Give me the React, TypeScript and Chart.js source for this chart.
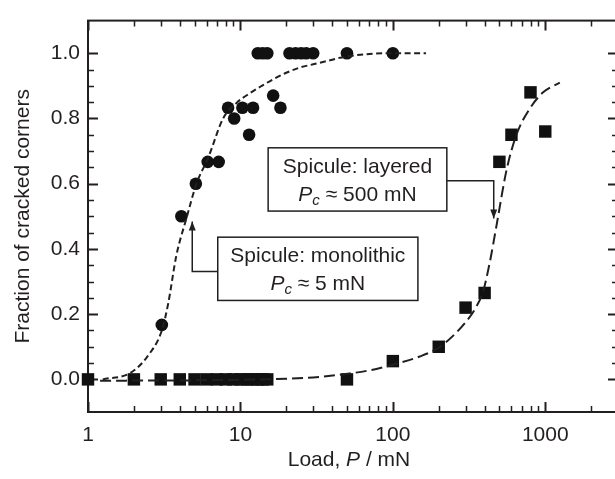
import React, { useEffect, useRef } from 'react';
import { Chart, registerables } from 'chart.js';

Chart.register(...registerables);

// ---- data ----
const MONO_LOAD = [3.05, 4.1, 5.1, 6.1, 7.2, 8.3, 9.1, 10.3, 11.4, 12.1, 13, 14, 15, 16.4, 18.3, 21, 23, 25, 27, 30, 50, 100];
const MONO_FRACTION = [0.167, 0.5, 0.6, 0.667, 0.667, 0.833, 0.8, 0.833, 0.75, 0.833, 1, 1, 1, 0.87, 0.833, 1, 1, 1, 1, 1, 1, 1];

const LAYERED_LOAD = [1, 2, 3, 4, 5, 6, 7, 8, 9, 10, 11, 12, 13, 14, 15, 50, 100, 200, 300, 400, 500, 600, 800, 1000];
const LAYERED_FRACTION = [0, 0, 0, 0, 0, 0, 0, 0, 0, 0, 0, 0, 0, 0, 0, 0, 0.056, 0.1, 0.22, 0.265, 0.667, 0.75, 0.88, 0.76];

const MONO_FIT_LOAD = [1.25, 1.9, 2.45, 3.05, 3.35, 3.8, 4.4, 5.15, 6.15, 7.7, 9.4, 11.5, 13.8, 16.4, 20, 24.5, 30, 37, 45, 50, 67, 100, 165];
const MONO_FIT_FRACTION = [0.0, 0.02, 0.07, 0.15, 0.23, 0.38, 0.49, 0.6, 0.68, 0.8, 0.847, 0.877, 0.9, 0.92, 0.94, 0.956, 0.966, 0.976, 0.986, 0.99, 0.997, 1.0, 1.0];

const LAYERED_FIT_LOAD = [1.2, 5, 10, 20, 30, 52, 78, 100, 150, 200, 250, 300, 350, 391, 433, 478, 556, 647, 791, 968, 1245];
const LAYERED_FIT_FRACTION = [-0.004, -0.003, -0.001, 0.002, 0.006, 0.018, 0.032, 0.045, 0.07, 0.097, 0.135, 0.175, 0.22, 0.27, 0.36, 0.47, 0.64, 0.75, 0.83, 0.88, 0.91];

const X_TICKS = [1, 10, 100, 1000];
const X_MIN = 1;
const X_MAX = 3000;
const Y_TICKS = [0, 0.2, 0.4, 0.6, 0.8, 1.0];
const Y_MIN = -0.1;
const Y_MAX = 1.1;

const X_TITLE = ['Load, ', 'P', ' / mN'];
const Y_TITLE = 'Fraction of cracked corners';

// annotation boxes (data units)
const NOTE_LAYERED = {
  title: 'Spicule: layered',
  pc: ' ≈ 500 mN',
  box: [15.2, 226, 0.516, 0.71],
  arrow: [[226, 0.609], [459, 0.609], [459, 0.493]],
};
const NOTE_MONO = {
  title: 'Spicule: monolithic',
  pc: ' ≈ 5 mN',
  box: [7.1, 146, 0.242, 0.436],
  arrow: [[7.1, 0.331], [4.83, 0.331], [4.83, 0.484]],
};

const INK = '#231f20';
const FONT = "'Liberation Sans', Arial, Helvetica, sans-serif";

const pts = (xs: number[], ys: number[]) => xs.map((x, i) => ({ x, y: ys[i] }));

const framePlugin = {
  id: 'frameTicks',
  beforeDatasetsDraw(chart: any) {
    const { ctx, chartArea } = chart;
    const { left, right, top, bottom } = chartArea;
    const xs = chart.scales.x;
    const ys = chart.scales.y;
    ctx.save();
    ctx.strokeStyle = INK;
    ctx.lineWidth = 2;
    ctx.strokeRect(left, top, right - left, bottom - top);
    // x ticks (log, major + minor)
    for (const dec of X_TICKS) {
      for (let m = 1; m <= 9; m++) {
        const v = m * dec;
        if (v < X_MIN || v > X_MAX) continue;
        const px = Math.round(xs.getPixelForValue(v)) + 0.5;
        const len = m === 1 ? 10 : 6;
        ctx.lineWidth = m === 1 ? 2 : 1.5;
        ctx.beginPath();
        ctx.moveTo(px, bottom);
        ctx.lineTo(px, bottom - len);
        ctx.moveTo(px, top);
        ctx.lineTo(px, top + len);
        ctx.stroke();
      }
    }
    // y ticks (major every 0.2, minor every 0.05)
    const step = (Y_TICKS[1] - Y_TICKS[0]) / 4;
    const n = Math.round((Y_TICKS[Y_TICKS.length - 1] - Y_TICKS[0]) / step);
    for (let i = 0; i <= n; i++) {
      const v = Y_TICKS[0] + i * step;
      const py = Math.round(ys.getPixelForValue(v)) + 0.5;
      const major = i % 4 === 0;
      const len = major ? 10 : 6;
      ctx.lineWidth = major ? 2 : 1.5;
      ctx.beginPath();
      ctx.moveTo(left, py);
      ctx.lineTo(left + len, py);
      ctx.moveTo(right, py);
      ctx.lineTo(right - len, py);
      ctx.stroke();
    }
    ctx.restore();
  },
  afterDraw(chart: any) {
    const { ctx, chartArea } = chart;
    const xs = chart.scales.x;
    const ys = chart.scales.y;
    ctx.save();
    ctx.fillStyle = INK;
    ctx.strokeStyle = INK;
    // x title with italic P
    const reg = `21px ${FONT}`;
    const ita = `italic 21px ${FONT}`;
    const parts = X_TITLE.map((t, i) => ({ t, f: i === 1 ? ita : reg }));
    let total = 0;
    for (const p of parts) { ctx.font = p.f; total += ctx.measureText(p.t).width; }
    let cx = (chartArea.left + chartArea.right) / 2 - 4 - total / 2;
    ctx.textBaseline = 'middle';
    ctx.textAlign = 'left';
    for (const p of parts) { ctx.font = p.f; ctx.fillText(p.t, cx, 460); cx += ctx.measureText(p.t).width; }

    // annotations
    const drawNote = (note: any) => {
      const [x0, x1, y0, y1] = note.box;
      const L = xs.getPixelForValue(x0), R = xs.getPixelForValue(x1);
      const T = ys.getPixelForValue(y1), B = ys.getPixelForValue(y0);
      ctx.fillStyle = '#fff';
      ctx.fillRect(L, T, R - L, B - T);
      ctx.lineWidth = 1.5;
      ctx.strokeStyle = INK;
      ctx.strokeRect(L, T, R - L, B - T);
      ctx.fillStyle = INK;
      const mid = (L + R) / 2;
      ctx.font = reg;
      ctx.textAlign = 'center';
      ctx.textBaseline = 'middle';
      ctx.fillText(note.title, mid, T + 19);
      // second line: P_c ≈ ...
      const sub = `italic 15px ${FONT}`;
      ctx.font = ita; const wP = ctx.measureText('P').width;
      ctx.font = sub; const wc = ctx.measureText('c').width;
      ctx.font = reg; const wr = ctx.measureText(note.pc).width;
      let sx = mid - (wP + wc + wr) / 2;
      const ly = T + 47;
      ctx.textAlign = 'left';
      ctx.font = ita; ctx.fillText('P', sx, ly); sx += wP;
      ctx.font = sub; ctx.fillText('c', sx, ly + 6); sx += wc;
      ctx.font = reg; ctx.fillText(note.pc, sx, ly);
      // arrow
      const path = note.arrow.map((p: number[]) => [xs.getPixelForValue(p[0]), ys.getPixelForValue(p[1])]);
      ctx.lineWidth = 1.5;
      ctx.beginPath();
      ctx.moveTo(path[0][0], path[0][1]);
      for (let i = 1; i < path.length; i++) ctx.lineTo(path[i][0], path[i][1]);
      ctx.stroke();
      const [ax, ay] = path[path.length - 1];
      const [bx, by] = path[path.length - 2];
      const ang = Math.atan2(ay - by, ax - bx);
      const hl = 9, hw = 3.5;
      ctx.beginPath();
      ctx.moveTo(ax, ay);
      ctx.lineTo(ax - hl * Math.cos(ang) + hw * Math.sin(ang), ay - hl * Math.sin(ang) - hw * Math.cos(ang));
      ctx.lineTo(ax - hl * Math.cos(ang) - hw * Math.sin(ang), ay - hl * Math.sin(ang) + hw * Math.cos(ang));
      ctx.closePath();
      ctx.fill();
    };
    drawNote(NOTE_LAYERED);
    drawNote(NOTE_MONO);
    ctx.restore();
  },
};

export default function App() {
  const ref = useRef<HTMLCanvasElement>(null);
  useEffect(() => {
    if (!ref.current) return;
    const chart = new Chart(ref.current, {
      type: 'scatter',
      data: {
        datasets: [
          {
            label: 'monolithic fit',
            data: pts(MONO_FIT_LOAD, MONO_FIT_FRACTION),
            showLine: true,
            pointRadius: 0,
            borderColor: INK,
            borderWidth: 2,
            borderDash: [6, 3.5],
            cubicInterpolationMode: 'monotone',
            clip: false,
          } as any,
          {
            label: 'layered fit',
            data: pts(LAYERED_FIT_LOAD, LAYERED_FIT_FRACTION),
            showLine: true,
            pointRadius: 0,
            borderColor: INK,
            borderWidth: 2,
            borderDash: [11, 5],
            cubicInterpolationMode: 'monotone',
            clip: false,
          } as any,
          {
            label: 'monolithic',
            data: pts(MONO_LOAD, MONO_FRACTION),
            pointStyle: 'circle',
            pointRadius: 6.3,
            backgroundColor: '#111',
            borderColor: '#111',
            borderWidth: 0,
            clip: false,
          } as any,
          {
            label: 'layered',
            data: pts(LAYERED_LOAD, LAYERED_FRACTION),
            pointStyle: 'rect',
            pointRadius: 8.8,
            backgroundColor: '#111',
            borderColor: '#111',
            borderWidth: 0,
            clip: false,
          } as any,
        ],
      },
      options: {
        animation: false,
        responsive: false,
        devicePixelRatio: 1,
        layout: { padding: { top: 8, right: 12, left: 0, bottom: 0 } },
        plugins: { legend: { display: false }, tooltip: { enabled: false } },
        scales: {
          x: {
            type: 'logarithmic',
            min: X_MIN,
            max: X_MAX,
            grid: { display: false, drawTicks: false },
            border: { display: false },
            afterBuildTicks: (s: any) => { s.ticks = X_TICKS.map((v) => ({ value: v })); },
            afterFit: (s: any) => { s.height = 67; },
            ticks: {
              padding: 11,
              color: INK,
              font: { family: FONT, size: 21 },
              maxRotation: 0,
              autoSkip: false,
              callback: (v: any) => String(v),
            },
          },
          y: {
            type: 'linear',
            min: Y_MIN,
            max: Y_MAX,
            grid: { display: false, drawTicks: false },
            border: { display: false },
            afterBuildTicks: (s: any) => { s.ticks = Y_TICKS.map((v) => ({ value: v })); },
            afterFit: (s: any) => { s.width = 88; },
            title: {
              display: true,
              text: Y_TITLE,
              color: INK,
              font: { family: FONT, size: 21 },
              padding: { top: 11, bottom: 0 },
            },
            ticks: {
              padding: 8,
              color: INK,
              font: { family: FONT, size: 21 },
              autoSkip: false,
              callback: (v: any) => Number(v).toFixed(1),
            },
          },
        },
      },
      plugins: [framePlugin],
    });
    return () => chart.destroy();
  }, []);
  return (
    <div style={{ position: 'absolute', left: 0, top: 0, width: 615, height: 479, overflow: 'hidden', background: '#fff' }}>
      <canvas ref={ref} width={630} height={479} style={{ width: 630, height: 479, display: 'block' }} />
    </div>
  );
}
